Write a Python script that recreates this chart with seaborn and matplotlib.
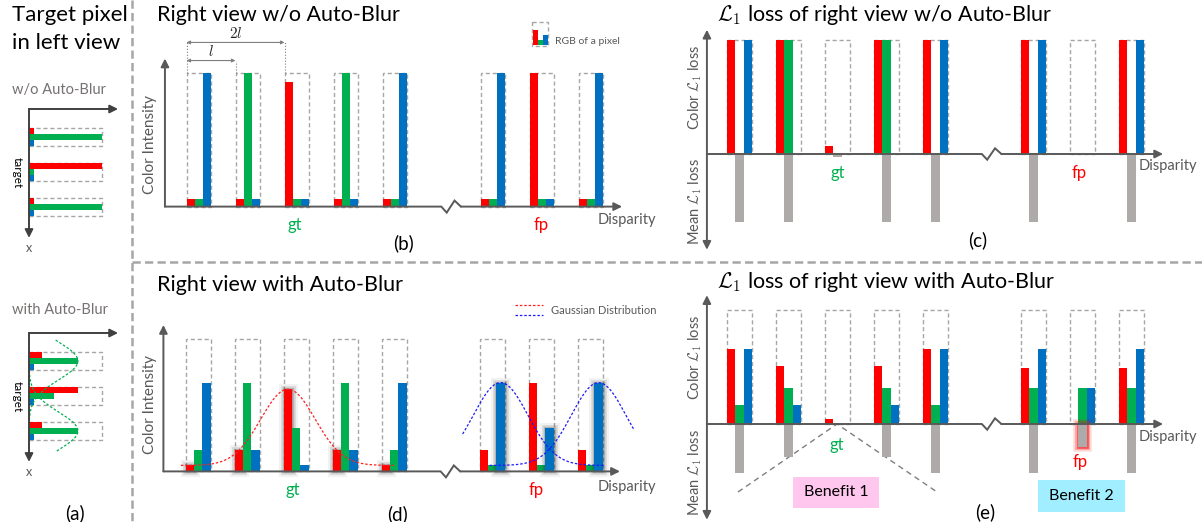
import numpy as np
import pandas as pd
import matplotlib.pyplot as plt
import matplotlib.patheffects as pe
from matplotlib.patches import Rectangle
import seaborn as sns

# ------------------------------------------------------------
# canvas / style
# ------------------------------------------------------------
W, H = 1202, 522

sns.set_theme(style="white")
plt.rcParams["font.family"] = ["Lato", "DejaVu Sans"]
plt.rcParams["mathtext.fontset"] = "cm"

RED, GREEN, BLUE = "#FF0000", "#00B050", "#0070C0"
MEAN_C = "#AEAAAA"
BOX_C = "#A6A6A6"
AXIS_C = "#595959"
LABEL_C = "#595959"
CHANNELS = ["R", "G", "B"]
PALETTE = dict(zip(CHANNELS, [RED, GREEN, BLUE]))
BW = 0.17  # width of one colour bar, in units of the pixel spacing l

# ------------------------------------------------------------
# data (full intensity / full loss = 1)
# ------------------------------------------------------------
SLOTS = [0, 1, 2, 3, 4, 6, 7, 8]   # disparity slots, 5 is the axis break
ROWS = [0, 1, 2]                   # rows around the target pixel in (a)

# (a) target pixel in the left view
a_plain_r = [0.07, 1.00, 0.07]
a_plain_g = [1.00, 0.07, 1.00]
a_plain_b = [0.07, 0.07, 0.07]
a_blur_r = [0.18, 0.67, 0.18]
a_blur_g = [0.67, 0.34, 0.67]
a_blur_b = [0.07, 0.07, 0.07]

# (b) right view w/o Auto-Blur
b_r = [0.06, 0.06, 0.93, 0.06, 0.06, 0.06, 1.00, 0.06]
b_g = [0.06, 1.00, 0.06, 1.00, 0.06, 0.06, 0.06, 0.06]
b_b = [1.00, 0.06, 0.06, 0.06, 1.00, 1.00, 0.06, 1.00]

# (d) right view with Auto-Blur
d_r = [0.05, 0.16, 0.62, 0.16, 0.05, 0.16, 0.67, 0.16]
d_g = [0.16, 0.67, 0.33, 0.67, 0.16, 0.05, 0.05, 0.05]
d_b = [0.67, 0.16, 0.05, 0.16, 0.67, 0.67, 0.33, 0.67]
d_blurred = ["R", "R", "R", "R", "R", "B", "B", "B"]

# (c) L1 loss w/o Auto-Blur
c_r = [1.00, 1.00, 0.07, 1.00, 1.00, 1.00, 0.00, 1.00]
c_g = [0.00, 1.00, 0.00, 1.00, 0.00, 0.00, 0.00, 0.00]
c_b = [1.00, 0.00, 0.00, 0.00, 1.00, 1.00, 0.00, 1.00]
c_mean = [0.60, 0.60, 0.03, 0.60, 0.60, 0.60, 0.00, 0.60]

# (e) L1 loss with Auto-Blur
e_r = [0.66, 0.51, 0.04, 0.51, 0.66, 0.49, 0.00, 0.49]
e_g = [0.17, 0.32, 0.00, 0.32, 0.17, 0.32, 0.32, 0.32]
e_b = [0.66, 0.17, 0.00, 0.17, 0.66, 0.66, 0.32, 0.66]
e_mean = [0.43, 0.29, 0.00, 0.29, 0.43, 0.43, 0.20, 0.43]
e_glow_slot = 7

# gaussian kernels drawn as dashed curves
d_gauss_sigma, d_gauss_base = 0.557, 0.045
d_red_gauss = [(2, (-0.10, 4.27))]
d_blue_gauss = [(6, (5.65, 8.55)), (8, (6.20, 9.14))]
a_gauss_sigma = 0.54
a_green_gauss = [(0, (-0.34, 2.09)), (2, (0.40, 2.83))]


# ------------------------------------------------------------
# helpers
# ------------------------------------------------------------
def pos(slot, ch):
    return round(slot + (CHANNELS.index(ch) + 0.5) * BW, 4)


def rgb_frame(slots, red, green, blue):
    rows = []
    for s, r, g, b in zip(slots, red, green, blue):
        for ch, v in zip(CHANNELS, (r, g, b)):
            rows.append({"pos": pos(s, ch), "val": v, "ch": ch})
    return pd.DataFrame(rows)


def rgb_bars(ax, slots, red, green, blue, orient="x"):
    df = rgb_frame(slots, red, green, blue)
    xy = dict(x="pos", y="val") if orient == "x" else dict(x="val", y="pos")
    sns.barplot(data=df, **xy, hue="ch", hue_order=CHANNELS, palette=PALETTE,
                orient=orient, native_scale=True, dodge=False, width=1,
                saturation=1, errorbar=None, legend=False, linewidth=0, ax=ax)


def mean_bars(ax, slots, mean):
    df = pd.DataFrame({"pos": [pos(s, "G") for s in slots],
                       "val": [-m for m in mean]})
    sns.barplot(data=df, x="pos", y="val", color=MEAN_C, native_scale=True,
                width=BW, saturation=1, errorbar=None, linewidth=0, ax=ax)


def boxes(ax, slots, orient="x"):
    for s in slots:
        xy, w, h = ((s, 0), 3 * BW, 1) if orient == "x" else ((0, s), 1, 3 * BW)
        ax.add_patch(Rectangle(xy, w, h, fill=False, ec=BOX_C, lw=1.0,
                               ls=(0, (3, 2)), zorder=0.5))


def glow(ax, centers, color, alphas, widths, negative=False):
    effects = [pe.Stroke(linewidth=w, foreground=color, alpha=a)
               for w, a in zip(widths, alphas)] + [pe.Normal()]
    for p in ax.patches:
        if not p.get_fill() or p.get_height() == 0:
            continue
        if (p.get_height() < 0) != negative:
            continue
        cx = p.get_x() + p.get_width() / 2
        if any(abs(cx - c) < 1e-3 for c in centers):
            p.set_path_effects(effects)


def arrow(ax, start, end, style="-|>", color=AXIS_C, lw=1.4, ms=12):
    ax.annotate("", xy=end, xytext=start,
                arrowprops=dict(arrowstyle=style, color=color, lw=lw,
                                shrinkA=0, shrinkB=0, mutation_scale=ms))


def disparity_axis(ax, x_start, x_end, dy):
    ax.plot([x_start, 5.2, 5.31, 5.47, 5.6], [0, 0, -dy, dy, 0],
            color=AXIS_C, lw=1.4, solid_joinstyle="miter")
    arrow(ax, (5.6, 0), (x_end, 0))


def frame(ax, x0, y0, xu, yu, down=False):
    # map data units onto figure pixels: origin at (x0, y0), xu / yu px per unit
    ax.set_xlim(-x0 / xu, (W - x0) / xu)
    if down:
        ax.set_ylim((H - y0) / yu, -y0 / yu)
    else:
        ax.set_ylim((y0 - H) / yu, y0 / yu)
    ax.set_axis_off()


def gauss(x, mu, sigma, peak, base):
    return base + (peak - base) * np.exp(-(x - mu) ** 2 / (2 * sigma ** 2))


fig = plt.figure(figsize=(W / 100, H / 100), dpi=100)

# overlay in figure pixels for separators, captions, legend swatches
ov = fig.add_axes([0, 0, 1, 1])
ov.set_xlim(0, W)
ov.set_ylim(H, 0)
ov.set_axis_off()


def txt(x, y, s, size=10, color="black", **kw):
    kw.setdefault("ha", "center")
    kw.setdefault("va", "center")
    ov.text(x, y, s, fontsize=size, color=color, **kw)


sep = dict(color=BOX_C, lw=1.8, ls=(0, (3.3, 1.7)))
ov.plot([132, 132], [0, H], **sep)
ov.plot([132, W], [262, 262], **sep)

TITLE = 15.5

# ------------------------------------------------------------
# (a) target pixel in left view
# ------------------------------------------------------------
txt(12, 15, "Target pixel", 16, ha="left")
txt(12, 43, "in left view", 16, ha="left")
txt(75, 513, "(a)", 13.5)

for top, y0, label, (rr, gg, bb) in [
        (90, 128, "w/o Auto-Blur", (a_plain_r, a_plain_g, a_plain_b)),
        (310, 352, "with Auto-Blur", (a_blur_r, a_blur_g, a_blur_b))]:
    txt(12, top, label, 10.5, "#767171", ha="left")
    txt(17, y0 + 45, "target", 8.5, rotation=270)
    txt(29, y0 + 120, "x", 9, LABEL_C)
    ax = fig.add_axes([0, 0, 1, 1])
    boxes(ax, ROWS, orient="y")
    rgb_bars(ax, ROWS, rr, gg, bb, orient="y")
    arrow(ax, (0, -0.543), (1.22, -0.543), color="#404040")
    arrow(ax, (0, -0.543), (0, 3.14), color="#404040")
    if rr is a_blur_r:
        for row, (lo, hi) in a_green_gauss:
            ys = np.linspace(lo, hi, 200)
            xs = gauss(ys, pos(row, "G"), a_gauss_sigma, a_blur_g[row], 0.0)
            ax.plot(xs, ys, color=GREEN, lw=0.9, ls=(0, (2, 1.5)))
    frame(ax, 29, y0, 73, 35, down=True)

# ------------------------------------------------------------
# (b) right view w/o Auto-Blur
# ------------------------------------------------------------
txt(157, 15, "Right view w/o Auto-Blur", TITLE, ha="left")
txt(150, 145, "Color Intensity", 11, LABEL_C, rotation=90)
txt(295, 225, "gt", 12, GREEN)
txt(541, 225, "fp", 12, RED)
txt(598, 220, "Disparity", 10.5, LABEL_C, ha="left")
txt(403, 243, "(b)", 13.5)

# legend swatch "RGB of a pixel"
ov.add_patch(Rectangle((532, 22), 16, 24, fill=False, ec=BOX_C, lw=1.0, ls=(0, (3, 2))))
for x, top, c in [(533, 30, RED), (538, 40, GREEN), (543, 35, BLUE)]:
    ov.add_patch(Rectangle((x, top), 5, 45 - top, color=c, lw=0))
txt(555, 42, "RGB of a pixel", 7.5, LABEL_C, ha="left")

ax = fig.add_axes([0, 0, 1, 1])
boxes(ax, SLOTS)
rgb_bars(ax, SLOTS, b_r, b_g, b_b)
arrow(ax, (-0.44, 0), (-0.44, 1.105))
disparity_axis(ax, -0.44, 8.89, 0.045)
for span, yy, lab in [(1, 1.09, "$l$"), (2, 1.225, "$2l$")]:
    arrow(ax, (0, yy), (span, yy), style="<|-|>", color="#7F7F7F", lw=0.8, ms=5)
    ax.text(span / 2, yy + 0.012, lab, ha="center", va="bottom", fontsize=11)
    ax.plot([span, span], [1.0, yy], color="#7F7F7F", lw=0.8, ls=":")
ax.plot([0, 0], [1.0, 1.225], color="#7F7F7F", lw=0.8, ls=":")
frame(ax, 186.5, 206.6, 49, 134)

# ------------------------------------------------------------
# (d) right view with Auto-Blur
# ------------------------------------------------------------
txt(157, 285, "Right view with Auto-Blur", TITLE, ha="left")
txt(150, 404, "Color Intensity", 11, LABEL_C, rotation=90)
txt(293, 490, "gt", 12, GREEN)
txt(536, 490, "fp", 12, RED)
txt(598, 487, "Disparity", 10.5, LABEL_C, ha="left")
txt(398, 514, "(d)", 13.5)

ov.plot([515, 543], [304.5, 304.5], color="#FF2020", lw=0.9, ls=(0, (2, 1.5)))
ov.plot([515, 543], [314.5, 314.5], color="#1A1AFF", lw=0.9, ls=(0, (2, 1.5)))
txt(551, 310, "Gaussian Distribution", 8, LABEL_C, ha="left")

ax = fig.add_axes([0, 0, 1, 1])
boxes(ax, SLOTS)
rgb_bars(ax, SLOTS, d_r, d_g, d_b)
glow(ax, [pos(s, ch) for s, ch in zip(SLOTS, d_blurred)], "#303030",
     alphas=(0.06, 0.12, 0.22), widths=(8, 5, 2.5))
for slot, (lo, hi) in d_red_gauss:
    xs = np.linspace(lo, hi, 300)
    peak = d_r[SLOTS.index(slot)]
    ax.plot(xs, gauss(xs, pos(slot, "R"), d_gauss_sigma, peak, d_gauss_base),
            color="#FF2020", lw=0.9, ls=(0, (2, 1.5)), zorder=3)
for slot, (lo, hi) in d_blue_gauss:
    xs = np.linspace(lo, hi, 300)
    peak = d_b[SLOTS.index(slot)]
    ax.plot(xs, gauss(xs, pos(slot, "B"), d_gauss_sigma, peak, d_gauss_base),
            color="#1A1AFF", lw=0.9, ls=(0, (2, 1.5)), zorder=3)
arrow(ax, (-0.457, 0), (-0.457, 1.105))
disparity_axis(ax, -0.457, 8.86, 0.045)
frame(ax, 185.8, 471.4, 49, 132.5)

# ------------------------------------------------------------
# (c) / (e) L1 loss panels
# ------------------------------------------------------------
txt(717, 15, r"$\mathcal{L}_1$ loss of right view w/o Auto-Blur", TITLE, ha="left")
txt(695, 87, r"Color $\mathcal{L}_1$ loss", 10.5, LABEL_C, rotation=90)
txt(695, 202, r"Mean $\mathcal{L}_1$ loss", 10.5, LABEL_C, rotation=90)
txt(838, 173, "gt", 12, GREEN)
txt(1079, 173, "fp", 12, RED)
txt(1139, 166, "Disparity", 10.5, LABEL_C, ha="left")
txt(978, 240, "(c)", 13.5)

txt(717, 282, r"$\mathcal{L}_1$ loss of right view with Auto-Blur", TITLE, ha="left")
txt(695, 357, r"Color $\mathcal{L}_1$ loss", 10.5, LABEL_C, rotation=90)
txt(695, 473, r"Mean $\mathcal{L}_1$ loss", 10.5, LABEL_C, rotation=90)
txt(837, 445, "gt", 12, GREEN)
txt(1080, 462, "fp", 12, RED)
txt(1139, 437, "Disparity", 10.5, LABEL_C, ha="left")
txt(985, 512, "(e)", 13.5)

ov.plot([738, 837, 937], [492, 424, 492], color="#7F7F7F", lw=1.0, ls=(0, (4, 3)))
ov.add_patch(Rectangle((793, 477), 86, 31, color="#FFC6EE", lw=0))
ov.add_patch(Rectangle((1038, 480), 87, 32, color="#A0EEFF", lw=0))
txt(836, 492.5, "Benefit 1", 11.5)
txt(1081, 496, "Benefit 2", 11.5)

for y0, red, green, blue, mean, top in [
        (154, c_r, c_g, c_b, c_mean, 1.09),
        (424, e_r, e_g, e_b, e_mean, 1.13)]:
    ax = fig.add_axes([0, 0, 1, 1])
    boxes(ax, SLOTS)
    rgb_bars(ax, SLOTS, red, green, blue)
    mean_bars(ax, SLOTS, mean)
    if mean is e_mean:
        glow(ax, [pos(e_glow_slot, "G")], RED, alphas=(0.12, 0.25, 0.5),
             widths=(7, 4.5, 2), negative=True)
    arrow(ax, (-0.41, -0.84), (-0.41, top), style="<|-|>")
    disparity_axis(ax, -0.41, 8.9, 0.05)
    frame(ax, 727, y0, 49, 114)

fig.savefig("out.png", dpi=100)
